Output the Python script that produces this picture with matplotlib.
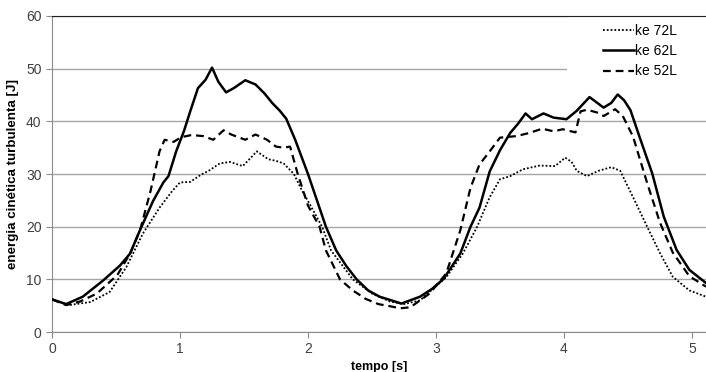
import matplotlib
matplotlib.use('Agg')
import matplotlib.pyplot as plt

plt.rcParams['font.family'] = ['Liberation Sans', 'DejaVu Sans']

# ke 62L (solid)
t_62 = [0, 0.11, 0.24, 0.40, 0.53, 0.61, 0.69, 0.79, 0.87, 0.91, 0.97, 1.03, 1.08, 1.14, 1.20, 1.25,
        1.30, 1.36, 1.42, 1.51, 1.59, 1.66, 1.72, 1.78, 1.83, 1.90, 2.0, 2.07, 2.14, 2.22, 2.30, 2.38,
        2.47, 2.56, 2.64, 2.73, 2.875, 2.97, 3.06, 3.19, 3.27, 3.34, 3.42, 3.5, 3.58, 3.64, 3.70, 3.75,
        3.84, 3.92, 4.02, 4.10, 4.20, 4.31, 4.37, 4.42, 4.47, 4.52, 4.59, 4.69, 4.78, 4.88, 4.98, 5.11]
ke_62 = [6.2, 5.3, 6.7, 9.8, 12.6, 14.9, 19.5, 24.9, 28.4, 29.6, 34.3, 38.1, 41.9, 46.3, 47.9, 50.2,
         47.5, 45.5, 46.3, 47.8, 47.0, 45.3, 43.5, 42.0, 40.5, 36.5, 30.0, 25.0, 20.0, 15.5, 12.5, 10.0,
         7.9, 6.7, 6.1, 5.4, 6.7, 8.2, 10.1, 14.9, 20.0, 23.6, 30.5, 34.5, 37.8, 39.5, 41.5, 40.4,
         41.5, 40.7, 40.4, 42.0, 44.6, 42.6, 43.5, 45.1, 44.0, 42.1, 37.1, 30.1, 21.9, 15.6, 11.8, 9.3]

# ke 52L (dashed)
t_52 = [0, 0.11, 0.22, 0.35, 0.51, 0.61, 0.69, 0.77, 0.84, 0.88, 0.95, 1.01, 1.09, 1.18, 1.26, 1.34,
        1.40, 1.51, 1.59, 1.68, 1.75, 1.81, 1.86, 1.92, 2.0, 2.09, 2.14, 2.25, 2.35, 2.45, 2.55, 2.64,
        2.72, 2.80, 2.95, 3.08, 3.19, 3.27, 3.34, 3.42, 3.50, 3.63, 3.73, 3.83, 3.92, 3.99, 4.09, 4.13,
        4.18, 4.27, 4.31, 4.40, 4.46, 4.54, 4.65, 4.75, 4.85, 4.98, 5.11]
ke_52 = [6.2, 5.1, 5.8, 7.3, 10.8, 14.9, 19.5, 26.8, 34.3, 36.5, 36.1, 37.0, 37.4, 37.2, 36.5, 38.3,
         37.5, 36.5, 37.5, 36.5, 35.2, 35.0, 35.2, 30.0, 24.0, 20.0, 15.5, 10.0, 7.9, 6.3, 5.3, 4.9,
         4.5, 4.7, 7.3, 11.1, 19.3, 27.4, 31.8, 34.3, 36.9, 37.2, 37.8, 38.6, 38.1, 38.5, 37.9, 41.9,
         42.2, 41.6, 41.0, 42.3, 41.0, 37.1, 28.3, 20.8, 15.1, 10.6, 8.6]

# ke 72L (dotted)
t_72 = [0, 0.13, 0.30, 0.45, 0.58, 0.71, 0.84, 0.94, 1.0, 1.08, 1.16, 1.23, 1.31, 1.39, 1.49, 1.55,
        1.60, 1.69, 1.75, 1.81, 1.89, 1.95, 2.02, 2.11, 2.18, 2.35, 2.5, 2.64, 2.75, 2.875, 3.08, 3.21,
        3.32, 3.42, 3.50, 3.58, 3.68, 3.81, 3.93, 4.01, 4.06, 4.10, 4.18, 4.27, 4.37, 4.44, 4.54, 4.65,
        4.75, 4.85, 4.98, 5.11]
ke_72 = [6.2, 5.1, 5.7, 7.6, 12.3, 18.7, 23.6, 26.8, 28.4, 28.5, 29.8, 30.7, 32.0, 32.3, 31.5, 33.0,
         34.3, 32.8, 32.5, 32.0, 30.0, 27.0, 24.0, 20.0, 15.5, 10.0, 7.3, 5.8, 5.3, 6.0, 10.4, 14.9,
         19.9, 25.6, 29.0, 29.6, 30.9, 31.6, 31.5, 33.1, 32.3, 30.6, 29.6, 30.6, 31.3, 30.6, 25.6, 20.0,
         15.0, 10.5, 7.9, 6.7]

x_ticks = [0, 1, 2, 3, 4, 5]
y_ticks = [0, 10, 20, 30, 40, 50, 60]

fig = plt.figure(figsize=(7.06, 3.72), dpi=100)
ax = fig.add_axes([0.0737, 0.1075, 0.9263, 0.8495])

ax.plot(t_72, ke_72, color='black', lw=1.3, linestyle=(0, (1, 1.1)), label='ke 72L', zorder=3)
ax.plot(t_62, ke_62, color='black', lw=1.8, linestyle='-', label='ke 62L', zorder=3)
ax.plot(t_52, ke_52, color='black', lw=1.6, linestyle=(0, (3.5, 2.2)), label='ke 52L', zorder=3)

ax.set_xlim(0, 5.11)
ax.set_ylim(0, 60)
ax.set_xticks(x_ticks)
ax.set_yticks(y_ticks)
ax.yaxis.grid(True, color='#a6a6a6', lw=1)
ax.set_axisbelow(True)

for side in ['left', 'bottom']:
    ax.spines[side].set_color('#8c8c8c')
ax.spines['right'].set_visible(False)
ax.spines['top'].set_color('#222222')
ax.spines['top'].set_zorder(6)
ax.tick_params(axis='both', colors='#8c8c8c', length=4, labelsize=10, labelcolor='#404040')

ax.set_xlabel('tempo [s]', fontsize=9, fontweight='bold', labelpad=3)
ax.set_ylabel('energia cinética turbulenta [J]', fontsize=9.6, fontweight='bold', labelpad=5)

# legend sits above the gridlines but under the curves
leg = ax.legend(loc='upper right', bbox_to_anchor=(1.011, 1.089), borderaxespad=0,
                fontsize=10, frameon=True, fancybox=False, borderpad=2.6,
                handlelength=2.2, handletextpad=0.1, labelspacing=0.45)
leg.get_frame().set_facecolor('white')
leg.get_frame().set_edgecolor('none')
leg.get_frame().set_alpha(1)
leg.set_zorder(2)

fig.savefig('out.png', dpi=100)
